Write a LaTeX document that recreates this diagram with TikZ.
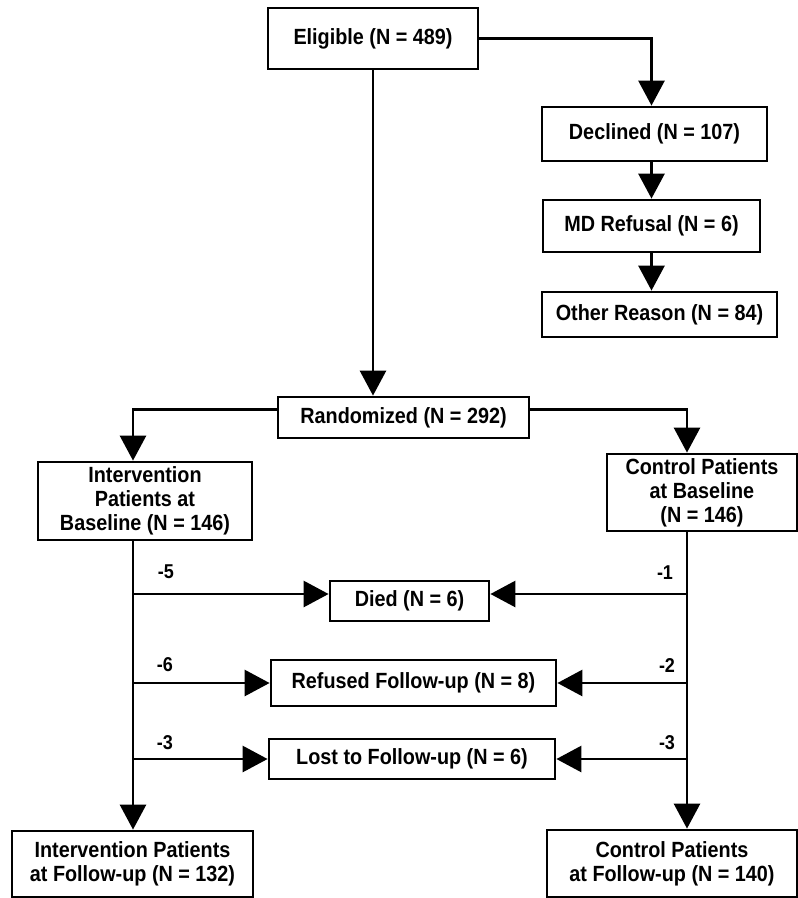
\documentclass[tikz,border=0pt]{standalone}
\usepackage{fontspec}
\setmainfont{Liberation Sans}[FakeStretch=0.9]
\usetikzlibrary{arrows.meta}

\begin{document}
\begin{tikzpicture}[x=1pt,y=-1pt,
    box/.style={draw, line width=2.8pt, align=center, inner sep=0pt,
      font=\fontsize{22}{24}\selectfont\bfseries},
    flow/.style={line width=2.8pt, -{Triangle[length=25pt,width=26pt]}},
    lbl/.style={font=\fontsize{20}{22}\selectfont\bfseries}]
    \useasboundingbox (0,0) rectangle (798,898);

    % Screening
    \node[box, minimum width=210pt, minimum height=61pt] (elig) at (373,38.5) {Eligible (N = 489)};
    \node[box, minimum width=225pt, minimum height=54pt] (decl) at (654.5,134) {Declined (N = 107)};
    \node[box, minimum width=217pt, minimum height=52pt] (mdref) at (651.5,226) {MD Refusal (N = 6)};
    \node[box, minimum width=235pt, minimum height=45pt] (other) at (659.5,314.5) {Other Reason (N = 84)};
    \node[box, minimum width=251pt, minimum height=41pt] (rand) at (403.5,417.5) {Randomized (N = 292)};

    % Arms at baseline
    \node[box, minimum width=214pt, minimum height=78pt] (intbase) at (145,501) {Intervention\\Patients at\\Baseline (N = 146)};
    \node[box, minimum width=190pt, minimum height=77pt] (ctrlbase) at (702,492.5) {Control Patients\\at Baseline\\(N = 146)};

    % Losses
    \node[box, minimum width=159pt, minimum height=40pt] (died) at (409.5,601) {Died (N = 6)};
    \node[box, minimum width=285pt, minimum height=46pt] (refused) at (413.5,683) {Refused Follow-up (N = 8)};
    \node[box, minimum width=286pt, minimum height=40pt] (lost) at (412,759) {Lost to Follow-up (N = 6)};

    % Arms at follow-up
    \node[box, minimum width=241pt, minimum height=66pt] (intfu) at (132.5,864) {Intervention Patients\\at Follow-up (N = 132)};
    \node[box, minimum width=250pt, minimum height=67pt] (ctrlfu) at (672,863.5) {Control Patients\\at Follow-up (N = 140)};

    % Spines of the two arms
    \coordinate (lx) at (133,0);
    \coordinate (rx) at (687,0);

    % Screening arrows
    \draw[flow] (elig.east) -| (decl.north -| mdref.north);
    \draw[flow] (decl.south -| mdref.north) -- (mdref.north);
    \draw[flow] (mdref.south) -- (mdref.south |- other.north);
    \draw[flow] (elig.south) -- (elig.south |- rand.north);
    \draw[flow] ([yshift=8pt]rand.west) -| (lx |- intbase.north);
    \draw[flow] ([yshift=8pt]rand.east) -| (rx |- ctrlbase.north);

    % Down to follow-up
    \draw[flow] (lx |- intbase.south) -- (lx |- intfu.north);
    \draw[flow] (rx |- ctrlbase.south) -- (rx |- ctrlfu.north);

    % Branches to the losses
    \draw[flow] ([yshift=7pt]lx |- died) -- ([yshift=7pt]died.west);
    \draw[flow] (lx |- refused) -- (refused.west);
    \draw[flow] (lx |- lost) -- (lost.west);
    \draw[flow] ([yshift=7pt]rx |- died) -- ([yshift=7pt]died.east);
    \draw[flow] (rx |- refused) -- (refused.east);
    \draw[flow] (rx |- lost) -- (lost.east);

    % Counts on the branches
    \node[lbl] (l5) at (166,572) {-5};
    \node[lbl] (l6) at (165,665) {-6};
    \node[lbl] (l3) at (165,743) {-3};
    \node[lbl] (r1) at (665,573) {-1};
    \node[lbl] (r2) at (667,666) {-2};
    \node[lbl] (r3) at (667,743) {-3};
\end{tikzpicture}
\end{document}
